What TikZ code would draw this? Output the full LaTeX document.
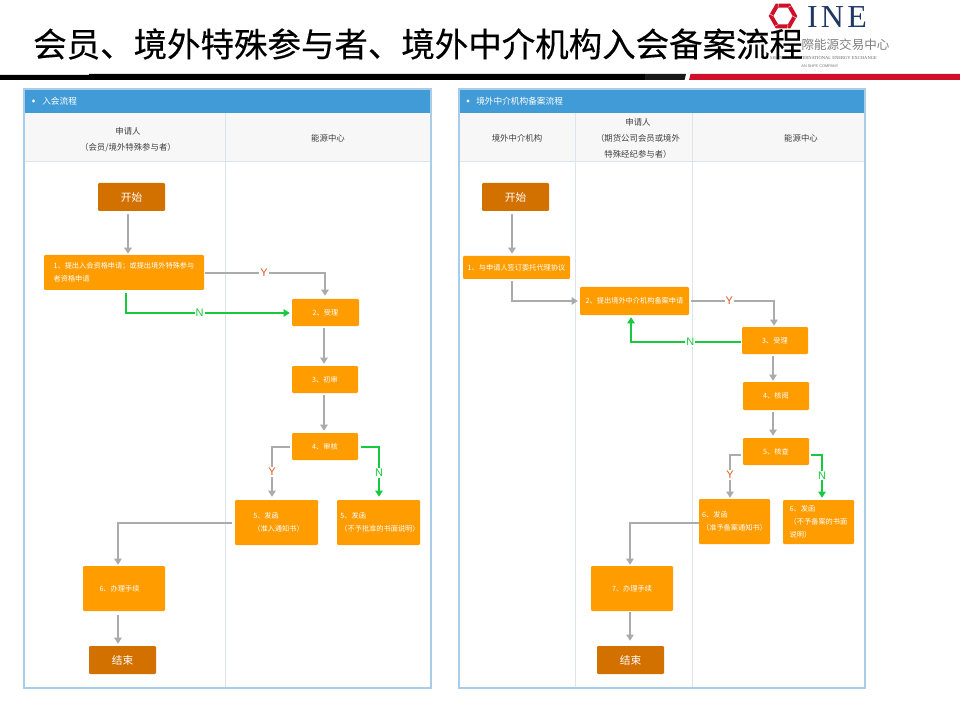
\documentclass[tikz,border=0pt]{standalone}
\usepackage{fontspec}
\usetikzlibrary{arrows.meta,calc}
\setmainfont{Noto Sans CJK SC}
\newfontfamily\titlefont[FakeBold=0.35]{Noto Sans CJK SC}
\newfontfamily\latinsans{Liberation Sans}
\newfontfamily\inefont[LetterSpace=10]{Liberation Serif}
\newfontfamily\latinserif{Liberation Serif}
\newcommand{\padpx}[1]{\hspace*{\dimexpr.75pt*#1\relax}}
\definecolor{boxorange}{HTML}{FF9C00}
\definecolor{boxdark}{HTML}{D27000}
\definecolor{barblue}{HTML}{419BD6}
\definecolor{panelline}{HTML}{A9CDE8}
\definecolor{headbg}{HTML}{F7F7F7}
\definecolor{divline}{HTML}{DDE5EA}
\definecolor{flowgray}{HTML}{ABABAB}
\definecolor{flowgreen}{HTML}{17C93E}
\definecolor{labelred}{HTML}{E2571E}
\definecolor{logored}{HTML}{D0102A}
\definecolor{ineblue}{HTML}{1F3864}
\tikzset{
  wh/.style 2 args={minimum width=#1*.75pt,minimum height=#2*.75pt},
  basebox/.style={rectangle,rounded corners=.8pt,inner sep=0pt,text=white,align=left},
  stepbox/.style={basebox,fill=boxorange,font=\fontsize{5.4pt}{9.75pt}\selectfont},
  endbox/.style={basebox,fill=boxdark,font=\fontsize{8pt}{10pt}\selectfont},
  flow/.style={draw=flowgray,line width=1.3pt,-{Triangle[length=4.5pt,width=5.5pt]}},
  noflow/.style={draw=flowgreen,line width=1.3pt,-{Triangle[length=4.5pt,width=5.5pt]}},
  ylabel/.style={fill=white,inner sep=.8pt,text=labelred,font=\fontsize{8.25pt}{9pt}\latinsans},
  nlabel/.style={fill=white,inner sep=.8pt,text=flowgreen,font=\fontsize{8.25pt}{9pt}\latinsans},
  headtext/.style={text=black!75,align=center,inner sep=0pt,font=\fontsize{6.3pt}{12pt}\selectfont},
  bartext/.style={text=white,anchor=west,inner sep=0pt,font=\fontsize{6.5pt}{8pt}\selectfont},
}
\begin{document}
\begin{tikzpicture}[x=.75pt,y=-.75pt]
\useasboundingbox (0,0) rectangle (960,720);
\fill[white] (0,0) rectangle (960,720);
% title rule
\fill[black] (0,75) -- (89,75) -- (89,74) -- (645,74) -- (645,80) -- (0,80) -- cycle;
\fill[black!90] (645,74) -- (686,74) -- (684.5,80) -- (645,80) -- cycle;
\fill[logored] (690.5,74) -- (960,74) -- (960,80) -- (689,80) -- cycle;
% logo
\begin{scope}[shift={(783,16)}]
\draw[logored,line width=3pt,line join=miter] (0:12) -- (60:12) -- (120:12) -- (180:12) -- (240:12) -- (300:12) -- cycle;
\foreach \a in {0,60,...,300}{\draw[white,line width=.3pt] (\a:10) -- (\a+12:14.5);}
\end{scope}
\node[inner sep=0pt,text=ineblue,font=\fontsize{24pt}{26pt}\inefont] (inemark) at (837,17.5) {INE};
\node[inner sep=0pt,text=black!50,font=\fontsize{9.4pt}{11pt}\selectfont] (inecn) at (845.5,45) {際能源交易中心};
\node[inner sep=0pt,text=black!60,font=\fontsize{3.4pt}{4pt}\latinserif] (ineen) at (823.5,58) {SHANGHAI INTERNATIONAL ENERGY EXCHANGE};
\node[inner sep=0pt,text=black!55,font=\fontsize{2.9pt}{4pt}\latinsans] (inesub) at (820,66) {AN SHFE COMPANY};
% title
\node[anchor=west,inner sep=0pt,text=black,font=\fontsize{25.1pt}{28pt}\titlefont] (title) at (33,44) {会员、境外特殊参与者、境外中介机构入会备案流程};
%%%%% left panel
\fill[headbg] (24,113) rectangle (431,161);
\draw[divline,line width=.7pt] (24,161) -- (431,161);
\draw[divline,line width=.7pt] (225,113) -- (225,688);
\fill[barblue] (24,89) rectangle (431,113);
\draw[panelline,line width=1pt] (24,89) rectangle (431,688);
\fill[white] (33.5,101) circle (1.6);
\node[bartext] (ltitle) at (42,101) {入会流程};
\node[headtext] (lh1) at (128,139.5) {申请人\\（会员/境外特殊参与者）};
\node[headtext] (lh2) at (328,138) {能源中心};
\node[endbox,wh={67}{28}] (ls) at (131.5,197) {开始};
\node[stepbox,wh={160}{35}] (l1) at (124,272.5) {1、提出入会资格申请；或提出境外特殊参与\\者资格申请};
\node[stepbox,wh={67}{27}] (l2) at (325.5,312.5) {2、受理};
\node[stepbox,wh={66}{27}] (l3) at (325,379.5) {3、初审};
\node[stepbox,wh={66}{27}] (l4) at (325,446.5) {4、审核};
\node[stepbox,wh={83}{45}] (l5a) at (276.5,522.5) {\padpx{4}5、发函\\\padpx{4}（准入通知书）};
\node[stepbox,wh={83}{45}] (l5b) at (378.5,522.5) {\padpx{3}5、发函\\\padpx{3}（不予批准的书面说明）};
\node[stepbox,wh={82}{45}] (l6) at (124,588.5) {6、办理手续\padpx{9}};
\node[endbox,wh={67}{28}] (le) at (122.5,660) {结束};
\draw[flow] ($(ls.south)+(-3.5,3)$) -- ($(l1.north)+(4,-1)$);
\draw[flow] ($(l1.east)+(1,.5)$) -| node[ylabel,pos=.245] (ly1) {Y} ($(l2.north)+(-.5,-3)$);
\draw[noflow] ($(l1.south)+(2,3)$) |- node[nlabel,pos=.725] (ln1) {N} ($(l2.west)+(-2,.5)$);
\draw[flow] ($(l2.south)+(-1.5,2)$) -- ($(l3.north)+(-1,-2)$);
\draw[flow] ($(l3.south)+(-1,2)$) -- ($(l4.north)+(-1,-2)$);
\draw[flow] ($(l4.west)+(-2,.5)$) -| node[ylabel,pos=.75] (ly2) {Y} ($(l5a.north)+(-4.5,-3)$);
\draw[noflow] ($(l4.east)+(3,.5)$) -| node[nlabel,pos=.76] (ln2) {N} ($(l5b.north)+(.5,-3)$);
\draw[flow] ($(l5a.west)+(-3,.5)$) -| ($(l6.north)+(-6,-1)$);
\draw[flow] ($(l6.south)+(-6,4)$) -- ($(le.north)+(-4.5,-2)$);
%%%%% right panel
\fill[headbg] (459,113) rectangle (865,161);
\draw[divline,line width=.7pt] (459,161) -- (865,161);
\draw[divline,line width=.7pt] (575,113) -- (575,688);
\draw[divline,line width=.7pt] (692,113) -- (692,688);
\fill[barblue] (459,89) rectangle (865,113);
\draw[panelline,line width=1pt] (459,89) rectangle (865,688);
\fill[white] (468,101) circle (1.6);
\node[bartext] (rtitle) at (476,101) {境外中介机构备案流程};
\node[headtext] (rh1) at (517,138) {境外中介机构};
\node[headtext] (rh2) at (638,138) {申请人\\（期货公司会员或境外\\特殊经纪参与者）};
\node[headtext] (rh3) at (801,138) {能源中心};
\node[endbox,wh={67}{28}] (rs) at (515.5,197) {开始};
\node[stepbox,wh={107}{23}] (r1) at (516.5,267.5) {1、与申请人签订委托代理协议};
\node[stepbox,wh={109}{28}] (r2) at (634.5,301) {2、提出境外中介机构备案申请};
\node[stepbox,wh={66}{27}] (r3) at (775,340.5) {3、受理};
\node[stepbox,wh={66}{28}] (r4) at (776,396) {4、核阅};
\node[stepbox,wh={66}{27}] (r5) at (776,451.5) {5、核查};
\node[stepbox,wh={71}{45}] (r6a) at (734.5,521.5) {6、发函\\（准予备案通知书）};
\node[stepbox,wh={71}{44}] (r6b) at (818.5,522) {6、发函\\（不予备案的书面\\说明）};
\node[stepbox,wh={82}{45}] (r7) at (632,588.5) {7、办理手续};
\node[endbox,wh={67}{28}] (re) at (630.5,660) {结束};
\draw[flow] ($(rs.south)+(-3.5,3)$) -- ($(r1.north)+(-4.5,-2)$);
\draw[flow] ($(r1.south)+(-4.5,2)$) |- ($(r2.west)+(-2,0)$);
\draw[flow] ($(r2.east)+(2,0)$) -| node[ylabel,pos=.23] (ry1) {Y} ($(r3.north)+(-1,-1)$);
\draw[noflow] ($(r3.west)+(-1,1.5)$) -| node[nlabel,pos=.23] (rn1) {N} ($(r2.south)+(-3.5,2)$);
\draw[flow] ($(r3.south)+(-2,2)$) -- ($(r4.north)+(-3,-1)$);
\draw[flow] ($(r4.south)+(-3,2)$) -- ($(r5.north)+(-3,-2)$);
\draw[flow] ($(r5.west)+(-2,3.5)$) -| node[ylabel,pos=.73] (ry2) {Y} ($(r6a.north)+(-4.5,-1)$);
\draw[noflow] ($(r5.east)+(2,3.5)$) -| node[nlabel,pos=.74] (rn2) {N} ($(r6b.north)+(3.5,-2)$);
\draw[flow] ($(r6a.west)+(0,1.5)$) -| ($(r7.north)+(-2,-1)$);
\draw[flow] ($(r7.south)+(-2,1)$) -- ($(re.north)+(-.5,-5)$);
\end{tikzpicture}
\end{document}
